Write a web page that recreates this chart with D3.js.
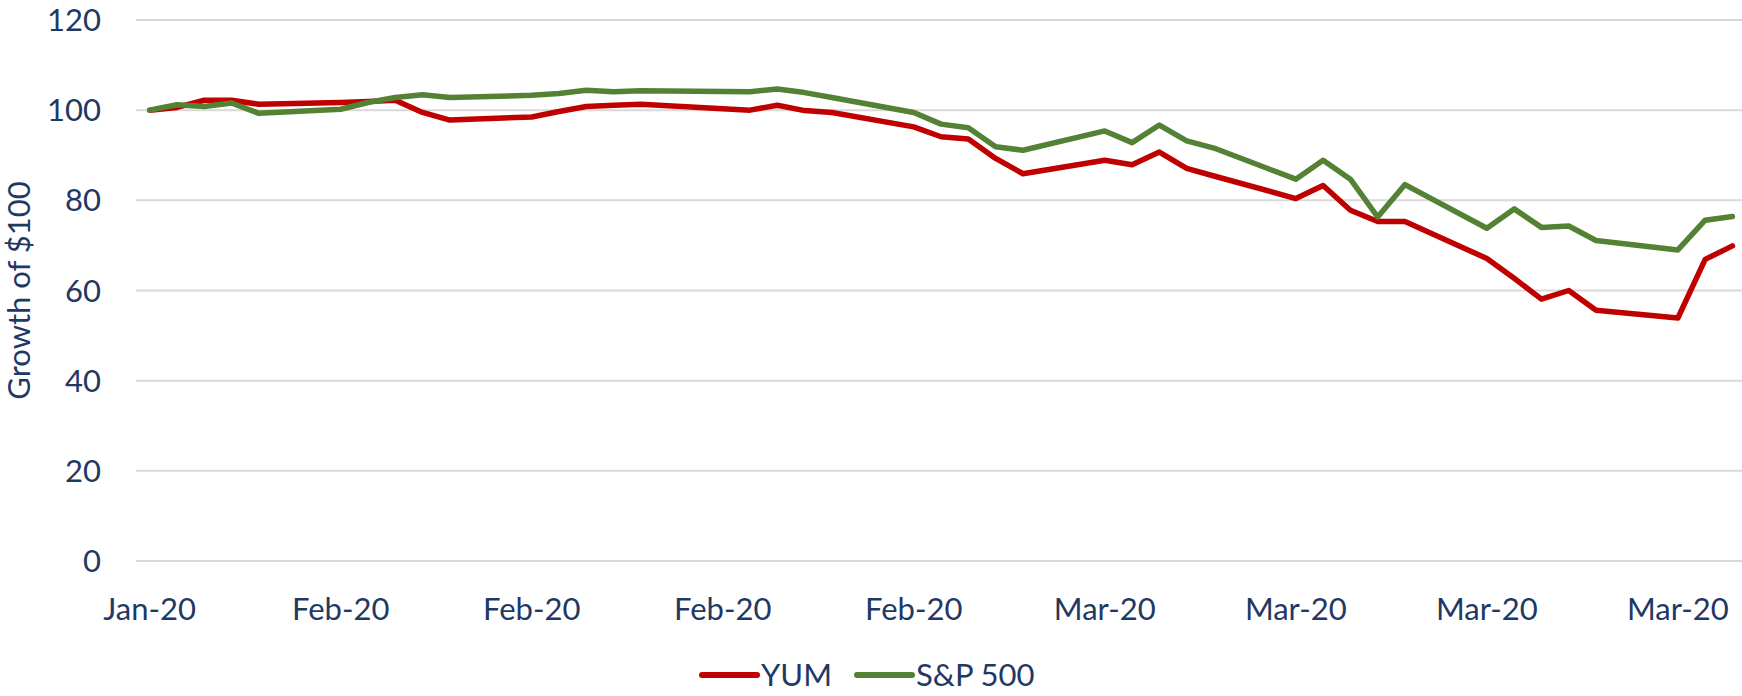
<!DOCTYPE html>
<html>
<head>
<meta charset="utf-8">
<script src="https://cdn.jsdelivr.net/npm/d3@7"></script>
<style>
  body { margin: 0; background: #fff; }
  text { font-family: Lato, "Open Sans", sans-serif; fill: #1f3864; }
</style>
</head>
<body>
<div id="chart"></div>
<script>
// trading days shown on the chart
const dates = [
    "2020-01-27", "2020-01-28", "2020-01-29", "2020-01-30", "2020-01-31",
    "2020-02-03", "2020-02-04", "2020-02-05", "2020-02-06", "2020-02-07",
    "2020-02-10", "2020-02-11", "2020-02-12", "2020-02-13", "2020-02-14",
    "2020-02-18", "2020-02-19", "2020-02-20", "2020-02-21",
    "2020-02-24", "2020-02-25", "2020-02-26", "2020-02-27", "2020-02-28",
    "2020-03-02", "2020-03-03", "2020-03-04", "2020-03-05", "2020-03-06",
    "2020-03-09", "2020-03-10", "2020-03-11", "2020-03-12", "2020-03-13",
    "2020-03-16", "2020-03-17", "2020-03-18", "2020-03-19", "2020-03-20",
    "2020-03-23", "2020-03-24", "2020-03-25"
];

// growth of $100
const yum = [
    100, 100.6, 102.2, 102.2, 101.3,
    101.7, 101.9, 102.2, 99.5, 97.8,
    98.5, 99.7, 100.8, 101.1, 101.3,
    100.0, 101.1, 99.9, 99.5,
    96.3, 94.1, 93.6, 89.3, 85.9,
    88.9, 87.9, 90.7, 87.1, 85.4,
    80.4, 83.3, 77.8, 75.3, 75.3,
    67.1, 62.7, 58.1, 60.0, 55.6,
    53.9, 66.9, 69.9
];
const sp500 = [
    100, 101.2, 100.8, 101.6, 99.3,
    100.2, 101.7, 102.8, 103.4, 102.8,
    103.3, 103.7, 104.4, 104.1, 104.3,
    104.1, 104.7, 103.9, 102.8,
    99.5, 96.9, 96.1, 91.9, 91.1,
    95.4, 92.8, 96.7, 93.2, 91.6,
    84.7, 88.9, 84.7, 76.3, 83.5,
    73.8, 78.1, 74.0, 74.3, 71.1,
    69.0, 75.6, 76.4
];

const seriesNames = ["YUM", "S&P 500"];
const seriesColors = ["#c00000", "#548235"];
const yTicks = [0, 20, 40, 60, 80, 100, 120];

const W = 1742, H = 696;
const margin = {top: 20, right: 0, bottom: 135, left: 136};

const parse = d3.timeParse("%Y-%m-%d");
const days = dates.map(parse);

const svg = d3.select("#chart").append("svg")
    .attr("width", W)
    .attr("height", H);

// date axis, half a day of padding each side (between tick marks)
const x = d3.scaleTime()
    .domain([d3.timeHour.offset(days[0], -12), d3.timeHour.offset(days[days.length - 1], 12)])
    .range([margin.left, margin.left + 59 * 27.29]);

const y = d3.scaleLinear()
    .domain([0, 120])
    .range([H - margin.bottom, margin.top]);

// gridlines
svg.append("g").selectAll("line")
    .data(yTicks)
    .enter().append("line")
    .attr("x1", margin.left)
    .attr("x2", W)
    .attr("y1", d => y(d))
    .attr("y2", d => y(d))
    .attr("stroke", "#d9d9d9")
    .attr("stroke-width", 2);

// y tick labels
svg.append("g").selectAll("text")
    .data(yTicks)
    .enter().append("text")
    .attr("x", 101)
    .attr("y", d => y(d))
    .attr("dy", "0.36em")
    .attr("text-anchor", "end")
    .style("font-size", "31px")
    .text(d => d);

// x tick labels, weekly
const xTicks = d3.timeMonday.range(days[0], d3.timeDay.offset(days[days.length - 1], 1));
const fmt = d3.timeFormat("%b-%y");
svg.append("g").selectAll("text")
    .data(xTicks)
    .enter().append("text")
    .attr("x", d => x(d))
    .attr("y", 620)
    .attr("text-anchor", "middle")
    .style("font-size", "31px")
    .text(d => fmt(d));

// y axis title
svg.append("text")
    .attr("transform", "translate(30," + y(60) + ") rotate(-90)")
    .attr("text-anchor", "middle")
    .style("font-size", "31px")
    .text("Growth of $100");

// lines
const line = d3.line()
    .x((d, i) => x(days[i]))
    .y(d => y(d));

[yum, sp500].forEach((values, k) => {
    svg.append("path")
        .datum(values)
        .attr("fill", "none")
        .attr("stroke", seriesColors[k])
        .attr("stroke-width", 5.5)
        .attr("stroke-linejoin", "round")
        .attr("stroke-linecap", "round")
        .attr("d", line);
});

// legend
const legend = svg.append("g").attr("transform", "translate(702,675)");
const legendX = [0, 155];
seriesNames.forEach((name, k) => {
    legend.append("line")
        .attr("x1", legendX[k])
        .attr("x2", legendX[k] + 55)
        .attr("stroke", seriesColors[k])
        .attr("stroke-width", 6)
        .attr("stroke-linecap", "round");
    legend.append("text")
        .attr("x", legendX[k] + 59)
        .attr("dy", "0.36em")
        .style("font-size", "31px")
        .text(name);
});
</script>
</body>
</html>
